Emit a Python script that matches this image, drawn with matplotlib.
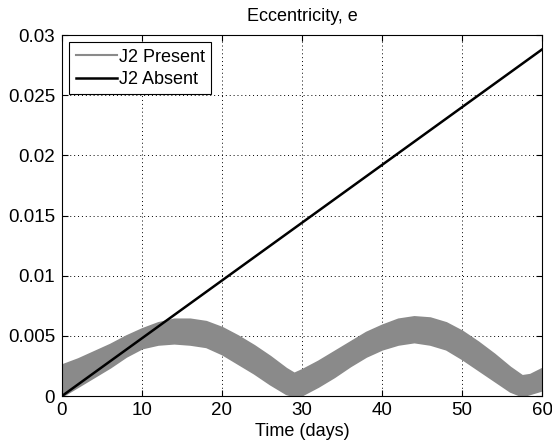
import matplotlib
matplotlib.use("Agg")
import matplotlib.pyplot as plt
import numpy as np

plt.rcParams['font.family'] = ['Liberation Sans', 'DejaVu Sans']

# J2 present: envelope of rapidly oscillating eccentricity
t_env = [0, 2, 4, 6, 8, 10, 12, 14, 16, 18, 20, 22, 24, 26, 28, 29, 30, 32, 34,
         36, 38, 40, 42, 44, 46, 48, 50, 52, 54, 56, 57.5, 58.5, 60]
e_upper = [0.0026, 0.0031, 0.0037, 0.0043, 0.0050, 0.0056, 0.0061, 0.0064, 0.0064,
           0.0062, 0.0057, 0.0050, 0.0042, 0.0033, 0.0023, 0.0019, 0.0022, 0.0029,
           0.0037, 0.0045, 0.0053, 0.0059, 0.0064, 0.0066, 0.0065, 0.0061, 0.0054,
           0.0045, 0.0035, 0.0024, 0.0017, 0.0018, 0.0023]
e_lower = [0.0000, 0.0008, 0.0016, 0.0024, 0.0033, 0.0040, 0.0043, 0.0044, 0.0043,
           0.0041, 0.0035, 0.0027, 0.0019, 0.0010, 0.0002, 0.0000, 0.0001, 0.0008,
           0.0016, 0.0025, 0.0033, 0.0039, 0.0043, 0.0045, 0.0043, 0.0039, 0.0031,
           0.0022, 0.0013, 0.0004, 0.0000, 0.0002, 0.0005]

# J2 absent
t_abs = [0, 10, 20, 30, 40, 50, 60]
e_abs = [0.0, 0.0048, 0.0096, 0.0144, 0.0192, 0.0240, 0.0288]

xticks = [0, 10, 20, 30, 40, 50, 60]
yticks = [0, 0.005, 0.01, 0.015, 0.02, 0.025, 0.03]
yticklabels = ['0', '0.005', '0.01', '0.015', '0.02', '0.025', '0.03']

gray = '#8a8a8a'

fig = plt.figure(figsize=(5.52, 4.46), dpi=100)
ax = fig.add_axes([0.1123, 0.1121, 0.8696, 0.8094])

ax.fill_between(t_env, e_lower, e_upper, color=gray, linewidth=1.5, edgecolor=gray,
                zorder=2)
ax.plot([], [], color=gray, linewidth=1.5, label='J2 Present')
ax.plot(t_abs, e_abs, color='black', linewidth=1.8, label='J2 Absent', zorder=3)

ax.set_xlim(0, 60)
ax.set_ylim(0, 0.03)
ax.set_xticks(xticks)
ax.set_yticks(yticks)
ax.set_yticklabels(yticklabels)
ax.tick_params(direction='in', top=True, right=True, labelsize=13.5, length=4,
               width=0.8)
ax.tick_params(axis='y', pad=5)
ax.tick_params(axis='x', pad=4)
ax.grid(True, linestyle=(0, (1, 3)), color='black', linewidth=0.7)
ax.set_axisbelow(True)
for s in ax.spines.values():
    s.set_linewidth(0.8)

ax.set_title('Eccentricity, e', fontsize=13, pad=10)
ax.set_xlabel('Time (days)', fontsize=13, labelpad=3)

leg = ax.legend(loc='upper left', fontsize=13, frameon=True, fancybox=False,
                edgecolor='black', framealpha=1, borderpad=0.35, handlelength=2.3,
                handletextpad=0.1, labelspacing=0.3, borderaxespad=0.4)
leg.get_frame().set_linewidth(0.8)

fig.savefig('out.png', dpi=100)
